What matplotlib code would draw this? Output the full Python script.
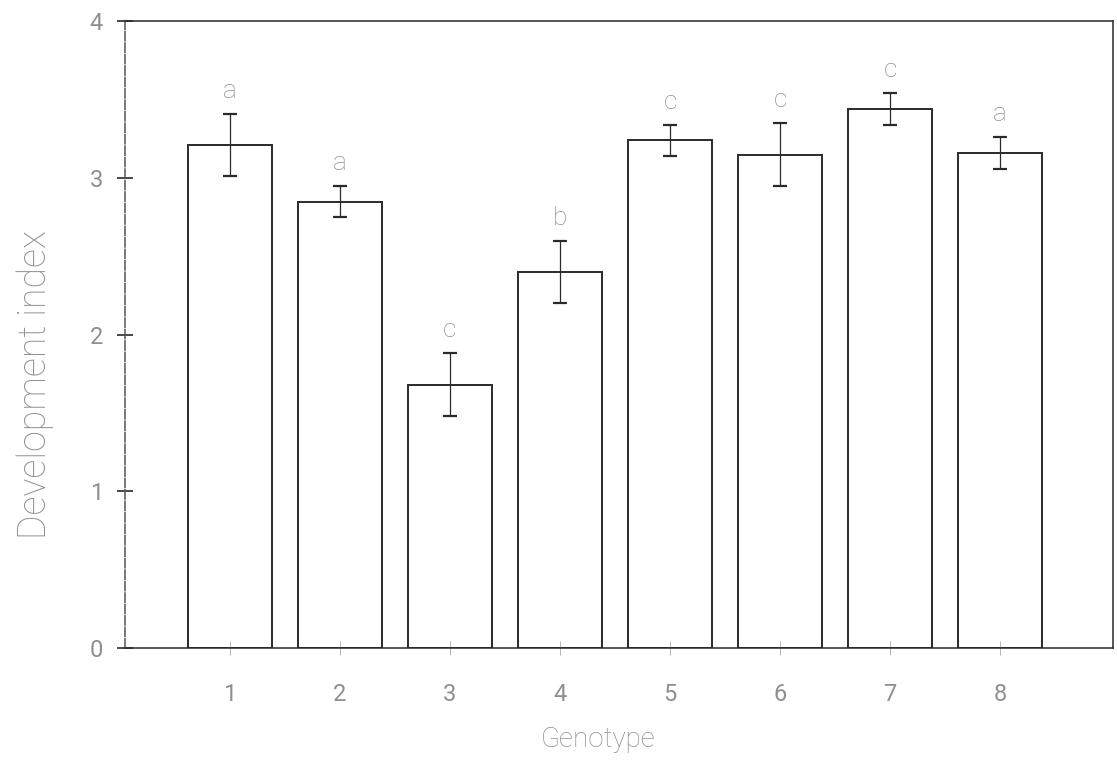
import numpy as np
import matplotlib
matplotlib.use('Agg')
import matplotlib.pyplot as plt

# development index per genotype, with error and significance letters
genotype = [1, 2, 3, 4, 5, 6, 7, 8]
dev_index = [3.21, 2.85, 1.68, 2.40, 3.24, 3.15, 3.44, 3.16]
dev_err = [0.20, 0.10, 0.20, 0.20, 0.10, 0.20, 0.10, 0.10]
sig_letters = ['a', 'a', 'c', 'b', 'c', 'c', 'c', 'a']

plt.rcParams['font.family'] = ['Roboto', 'DejaVu Sans']
txtcol = '#8f8f8f'
linecol = '#2a2a2a'

fig = plt.figure(figsize=(11.17, 7.64), dpi=100)
ax = fig.add_axes([0.112, 0.152, 0.884, 0.820])

ax.bar(genotype, dev_index, width=0.76, color='white', edgecolor=linecol, linewidth=1.4)
ax.errorbar(genotype, dev_index, yerr=dev_err, fmt='none', ecolor=linecol,
            elinewidth=0.9, capsize=5, capthick=1.6, linestyle=':')
for x, v, e, s in zip(genotype, dev_index, dev_err, sig_letters):
    ax.text(x, v + e + 0.07, s, ha='center', va='bottom', fontsize=19,
            color=txtcol, fontweight='light')

ax.set_xlim(0.05, 9.02)
ax.set_ylim(0, 4)
ax.set_yticks([0, 1, 2, 3, 4])
ax.set_xticks(genotype)
ax.tick_params(axis='y', direction='inout', length=12, width=1.2, colors=linecol,
               labelcolor=txtcol, labelsize=17, pad=10)
ax.tick_params(axis='x', direction='inout', length=10, width=0.6, colors='#aaaaaa',
               labelcolor=txtcol, labelsize=17, pad=20)
for sp in ax.spines.values():
    sp.set_color(linecol)
    sp.set_linewidth(1.1)
ax.spines['left'].set_linestyle((0, (6, 1.5)))
ax.spines['left'].set_color('#555555')

ax.set_xlabel('Genotype', fontsize=20, color=txtcol, fontweight='light')
ax.set_ylabel('Development index', fontsize=27, color=txtcol, fontweight='light')
ax.xaxis.set_label_coords(0.479, -0.125)
ax.yaxis.set_label_coords(-0.072, 0.42)

plt.savefig('out.png', dpi=100)
